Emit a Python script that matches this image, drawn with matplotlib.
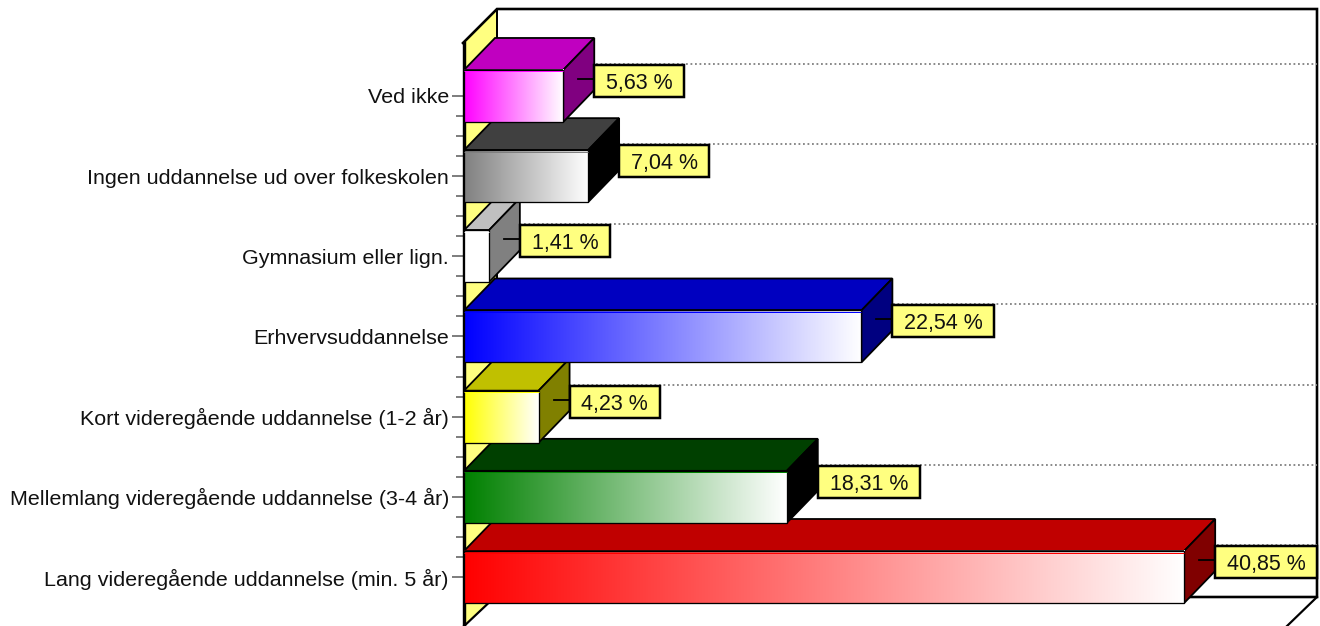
import numpy as np
import matplotlib
matplotlib.use('Agg')
import matplotlib.pyplot as plt
from matplotlib.colors import LinearSegmentedColormap
from matplotlib.patches import Polygon, Rectangle

plt.rcParams['font.family'] = ['Liberation Sans', 'DejaVu Sans']

categories = ['Lang videregående uddannelse (min. 5 år)',
              'Mellemlang videregående uddannelse (3-4 år)',
              'Kort videregående uddannelse (1-2 år)',
              'Erhvervsuddannelse',
              'Gymnasium eller lign.',
              'Ingen uddannelse ud over folkeskolen',
              'Ved ikke']
values = [40.85, 18.31, 4.23, 22.54, 1.41, 7.04, 5.63]
value_labels = ['40,85 %', '18,31 %', '4,23 %', '22,54 %', '1,41 %', '7,04 %', '5,63 %']

front_colors = ['#FF0000', '#008000', '#FFFF00', '#0000FF', '#FFFFFF', '#808080', '#FF00FF']
top_colors = ['#C00000', '#004000', '#C0C000', '#0000C0', '#C0C0C0', '#404040', '#C000C0']
side_colors = ['#800000', '#000000', '#808000', '#000080', '#808080', '#000000', '#800080']

W, H = 1320, 626
px_per_val = 17.63
px_per_cat = 80.17
X0, Y0 = 464, 577      # pixel position of value 0 / first category
TOP = 43               # pixel top of the axes

fig = plt.figure(figsize=(W / 100, H / 100), dpi=100, facecolor='white')
ax = fig.add_axes([X0 / W, 0, 1 - X0 / W, (H - TOP) / H])
ax.set_xlim(0, (W - X0) / px_per_val)
ax.set_ylim((Y0 - H) / px_per_cat, (Y0 - TOP) / px_per_cat)
ax.patch.set_alpha(0)


def dx(p):
    return p / px_per_val


def dy(p):
    return p / px_per_cat


def px(xp, yp):
    """figure pixel (top-left origin) to data coordinates"""
    return ((xp - X0) / px_per_val, (Y0 - yp) / px_per_cat)


LW = 0.72
DX, DY = dx(31), dy(32)
BAR = dy(52)

# back wall frame
ax.add_patch(Polygon([px(463, 43), px(497, 9), px(497, 595), px(463, 626)], closed=True,
                     facecolor='#FFFF80', edgecolor='none', clip_on=False, zorder=1))
ax.plot(*zip(px(463, 43), px(497, 9), px(1317, 9), px(1317, 597), px(497, 597)),
        color='black', lw=2.6 * LW, clip_on=False, zorder=2, solid_joinstyle='miter')
ax.plot(*zip(px(497, 9), px(497, 597)), color='black', lw=2 * LW, clip_on=False, zorder=2)
ax.plot(*zip(px(1317, 597), px(1286, 627)), color='black', lw=2.2 * LW, clip_on=False, zorder=2)
ax.plot(*zip(px(497, 595), px(462, 628)), color='black', lw=2.2 * LW, clip_on=False, zorder=2)

# gridlines on the back wall
for i in range(len(categories)):
    y = i + DY
    ax.plot([dx(33), dx(1317 - X0)], [y, y], color='#808080', lw=1.8 * LW,
            ls=(0, (1, 1.5)), clip_on=False, zorder=2)

# bars, lowest category first so that upper bars overlap
for i, (v, fc, tc, sc) in enumerate(zip(values, front_colors, top_colors, side_colors)):
    z = 10 + i
    lo, hi = i - BAR / 2, i + BAR / 2
    ax.add_patch(Polygon([(0, hi), (DX, hi + DY), (v + DX, hi + DY), (v, hi)], closed=True,
                         facecolor=tc, edgecolor='black', lw=1.8 * LW, clip_on=False, zorder=z))
    ax.add_patch(Polygon([(v, lo), (v + DX, lo + DY), (v + DX, hi + DY), (v, hi)], closed=True,
                         facecolor=sc, edgecolor='black', lw=1.8 * LW, clip_on=False, zorder=z))
    cmap = LinearSegmentedColormap.from_list('g', [fc, '#FFFFFF'])
    ax.imshow(np.linspace(0, 1, 256).reshape(1, -1), cmap=cmap, extent=(0, v, lo, hi),
              aspect='auto', interpolation='bilinear', clip_on=False, zorder=z)
    ax.add_patch(Rectangle((0, lo), v, BAR, facecolor='none', edgecolor='black',
                           lw=1.3 * LW, clip_on=False, zorder=z))
    ax.plot([0, v], [hi, hi], color='black', lw=1.6 * LW, clip_on=False, zorder=z,
            solid_capstyle='butt')
    ax.plot([0, v], [hi - dy(1.5)] * 2, color=fc, lw=1 * LW, clip_on=False, zorder=z,
            solid_capstyle='butt')
    ax.set_xlim(0, (W - X0) / px_per_val)
    ax.set_ylim((Y0 - H) / px_per_cat, (Y0 - TOP) / px_per_cat)

# value labels
for i, (v, lab) in enumerate(zip(values, value_labels)):
    z = 30
    w = dx(102 if len(lab) > 6 else 90)
    left = v + DX
    yc = i + dy(15)
    ax.plot([v + dx(15), left], [i + dy(17)] * 2, color='black', lw=1.8 * LW, zorder=z, clip_on=False)
    ax.add_patch(Rectangle((left, yc - dy(16)), w, dy(32), facecolor='#FFFF80', edgecolor='black',
                           lw=2.5 * LW, clip_on=False, zorder=z))
    ax.text(left + w / 2, yc, lab, ha='center', va='center_baseline', fontsize=15.5,
            color='#111111', zorder=z + 1, clip_on=False)

# axes
for s in ['top', 'right', 'bottom']:
    ax.spines[s].set_visible(False)
ax.spines['left'].set_linewidth(3.4 * LW)
ax.spines['left'].set_zorder(8)
ax.set_xticks([])
ax.set_yticks(range(len(categories)))
ax.set_yticklabels(categories, fontsize=15.45, color='#111111')
ax.set_yticks(np.arange(0, len(categories) - 1 + 0.01, 0.25), minor=True)
ax.tick_params(axis='y', which='major', length=8.6, width=2 * LW, color='#808080', pad=2.2)
ax.tick_params(axis='y', which='minor', length=5.8, width=2 * LW, color='#808080')

fig.savefig('out.png', dpi=100)
